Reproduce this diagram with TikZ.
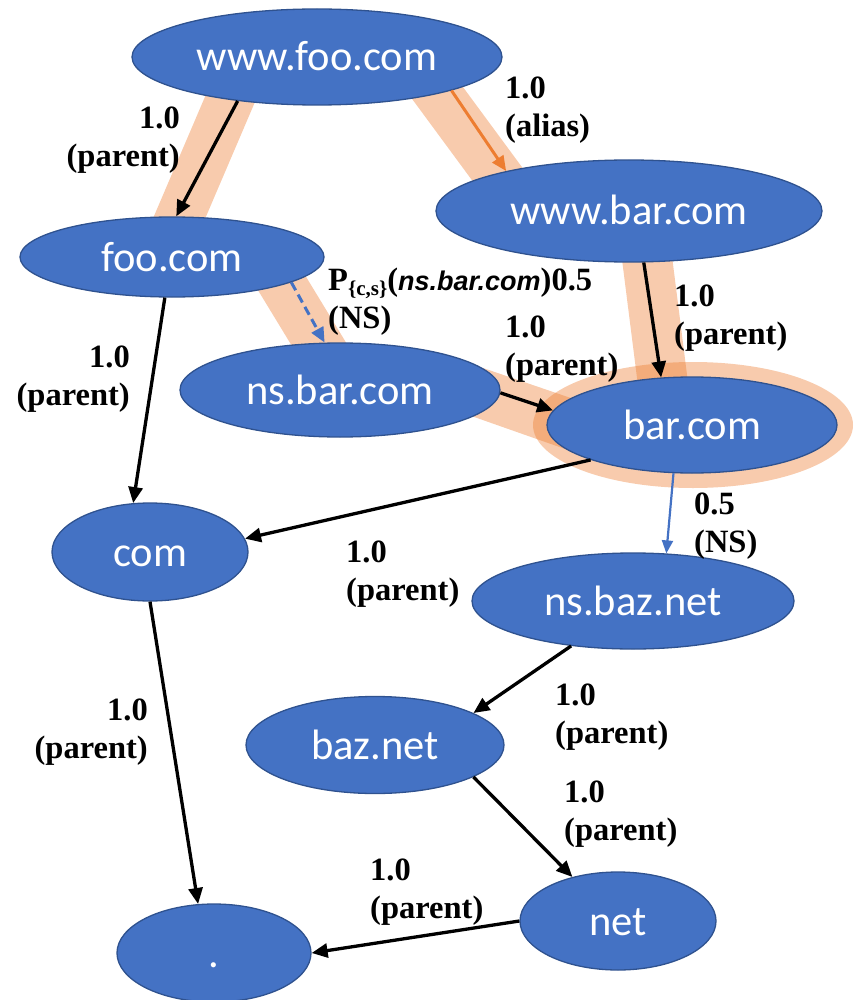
\documentclass[tikz,border=0pt]{standalone}
\usepackage{fontspec}
\setmainfont{Liberation Serif}
\newfontfamily\nodefont{Carlito}
\newfontfamily\italsans{Liberation Sans}
\usetikzlibrary{arrows.meta,shapes.geometric}
\definecolor{nodeblue}{HTML}{4472C4}
\definecolor{nodeedge}{HTML}{2F528F}
\definecolor{hlorange}{HTML}{ED7D31}

\begin{document}
\begin{tikzpicture}[x=1pt,y=-1pt,
  dns/.style={ellipse, fill=nodeblue, draw=nodeedge, line width=1.3pt, inner sep=0pt,
    text=white, font=\nodefont\fontsize{42.5}{50}\selectfont, text height=28pt, text depth=0pt},
  edgelbl/.style={inner sep=0pt, font=\fontsize{32.5}{38}\selectfont\bfseries},
  parentarrow/.style={-{Triangle[length=16pt,width=14pt]}, line width=3.3pt, black},
  aliasarrow/.style={-{Triangle[length=15pt,width=13pt]}, line width=3pt, hlorange},
  nsdash/.style={-{Triangle[length=15pt,width=13pt]}, line width=3pt, nodeblue, dash pattern=on 9pt off 5pt},
  nsthin/.style={-{Triangle[length=13pt,width=11pt]}, line width=2.2pt, nodeblue},
  hlfill/.style={fill=hlorange, fill opacity=0.4, draw=none},
  hlband/.style={draw=hlorange, draw opacity=0.4, line width=48pt, line cap=butt}]

\useasboundingbox (0,0) rectangle (859,1000);

% highlighted resolution path
\fill[hlfill] (693,425) ellipse [x radius=160, y radius=63];
\draw[hlband] (234,90) -- (172,235);
\draw[hlband] (425,76) -- (509,190);
\draw[hlband] (275,272) -- (331.6,365);
\draw[hlband, line width=50pt] (646,250) -- (665,400);
\fill[hlfill] (483,368) -- (600,408) -- (585,456) -- (460,412) -- cycle;

% domain nodes
\node[dns, minimum width=370pt, minimum height=96pt] (wwwfoo) at (317,57) {www.foo.com};
\node[dns, minimum width=386pt, minimum height=102pt] (wwwbar) at (629,211) {www.bar.com};
\node[dns, minimum width=304pt, minimum height=80pt] (foo) at (172,257) {foo.com};
\node[dns, minimum width=320pt, minimum height=94pt] (nsbar) at (340,390) {ns.bar.com};
\node[dns, minimum width=290pt, minimum height=96pt] (bar) at (692,425) {bar.com};
\node[dns, minimum width=196pt, minimum height=98pt] (com) at (150,552) {com};
\node[dns, minimum width=322pt, minimum height=96pt] (nsbaz) at (633,601) {ns.baz.net};
\node[dns, minimum width=258pt, minimum height=97pt] (baz) at (375,745) {baz.net};
\node[dns, minimum width=196pt, minimum height=98pt] (net) at (618,921) {net};
\node[dns, minimum width=194pt, minimum height=98pt] (dot) at (214,953) {.};

% dependency edges
\draw[parentarrow] (wwwfoo.209) -- (foo.84);
\draw[aliasarrow] (wwwfoo.346) -- (wwwbar.162);
\draw[nsdash] (foo.348) -- (nsbar.108);
\draw[parentarrow] (foo.260) -- (com.109);
\draw[parentarrow] (nsbar.359) -- (bar.174);
\draw[parentarrow] (wwwbar.286) -- (bar.123);
\draw[parentarrow] (bar.199) -- (com.8);
\draw[nsthin] (bar.249) -- (nsbaz.55);
\draw[parentarrow] (nsbaz.216) -- (baz.18);
\draw[parentarrow] (baz.342) -- (net.136);
\draw[parentarrow] (com.270) -- (dot.108);
\draw[parentarrow] (net.180) -- (dot.0);

% edge weights
\node[edgelbl, anchor=north east, align=right] (l1) at (180,107) {1.0\\(parent)};
\node[edgelbl, anchor=north west, align=left] (l2) at (505,77) {1.0\\(alias)};
\node[edgelbl, anchor=north west, align=left] (l3) at (328,268)
  {P\raisebox{-5pt}{\fontsize{21}{21}\selectfont\{c,s\}}({\italsans\itshape\fontsize{27}{38}\selectfont ns.bar.com})0.5\\(NS)};
\node[edgelbl, anchor=north west, align=left] (l4) at (505,316) {1.0\\(parent)};
\node[edgelbl, anchor=north west, align=left] (l5) at (674,285) {1.0\\(parent)};
\node[edgelbl, anchor=north east, align=right] (l6) at (130,346) {1.0\\(parent)};
\node[edgelbl, anchor=north west, align=left] (l7) at (694,493) {0.5\\(NS)};
\node[edgelbl, anchor=north west, align=left] (l8) at (346,541) {1.0\\(parent)};
\node[edgelbl, anchor=north west, align=left] (l9) at (555,684) {1.0\\(parent)};
\node[edgelbl, anchor=north west, align=left] (l10) at (564,781) {1.0\\(parent)};
\node[edgelbl, anchor=north east, align=right] (l11) at (148,699) {1.0\\(parent)};
\node[edgelbl, anchor=north west, align=left] (l12) at (370,859) {1.0\\(parent)};
\end{tikzpicture}
\end{document}
